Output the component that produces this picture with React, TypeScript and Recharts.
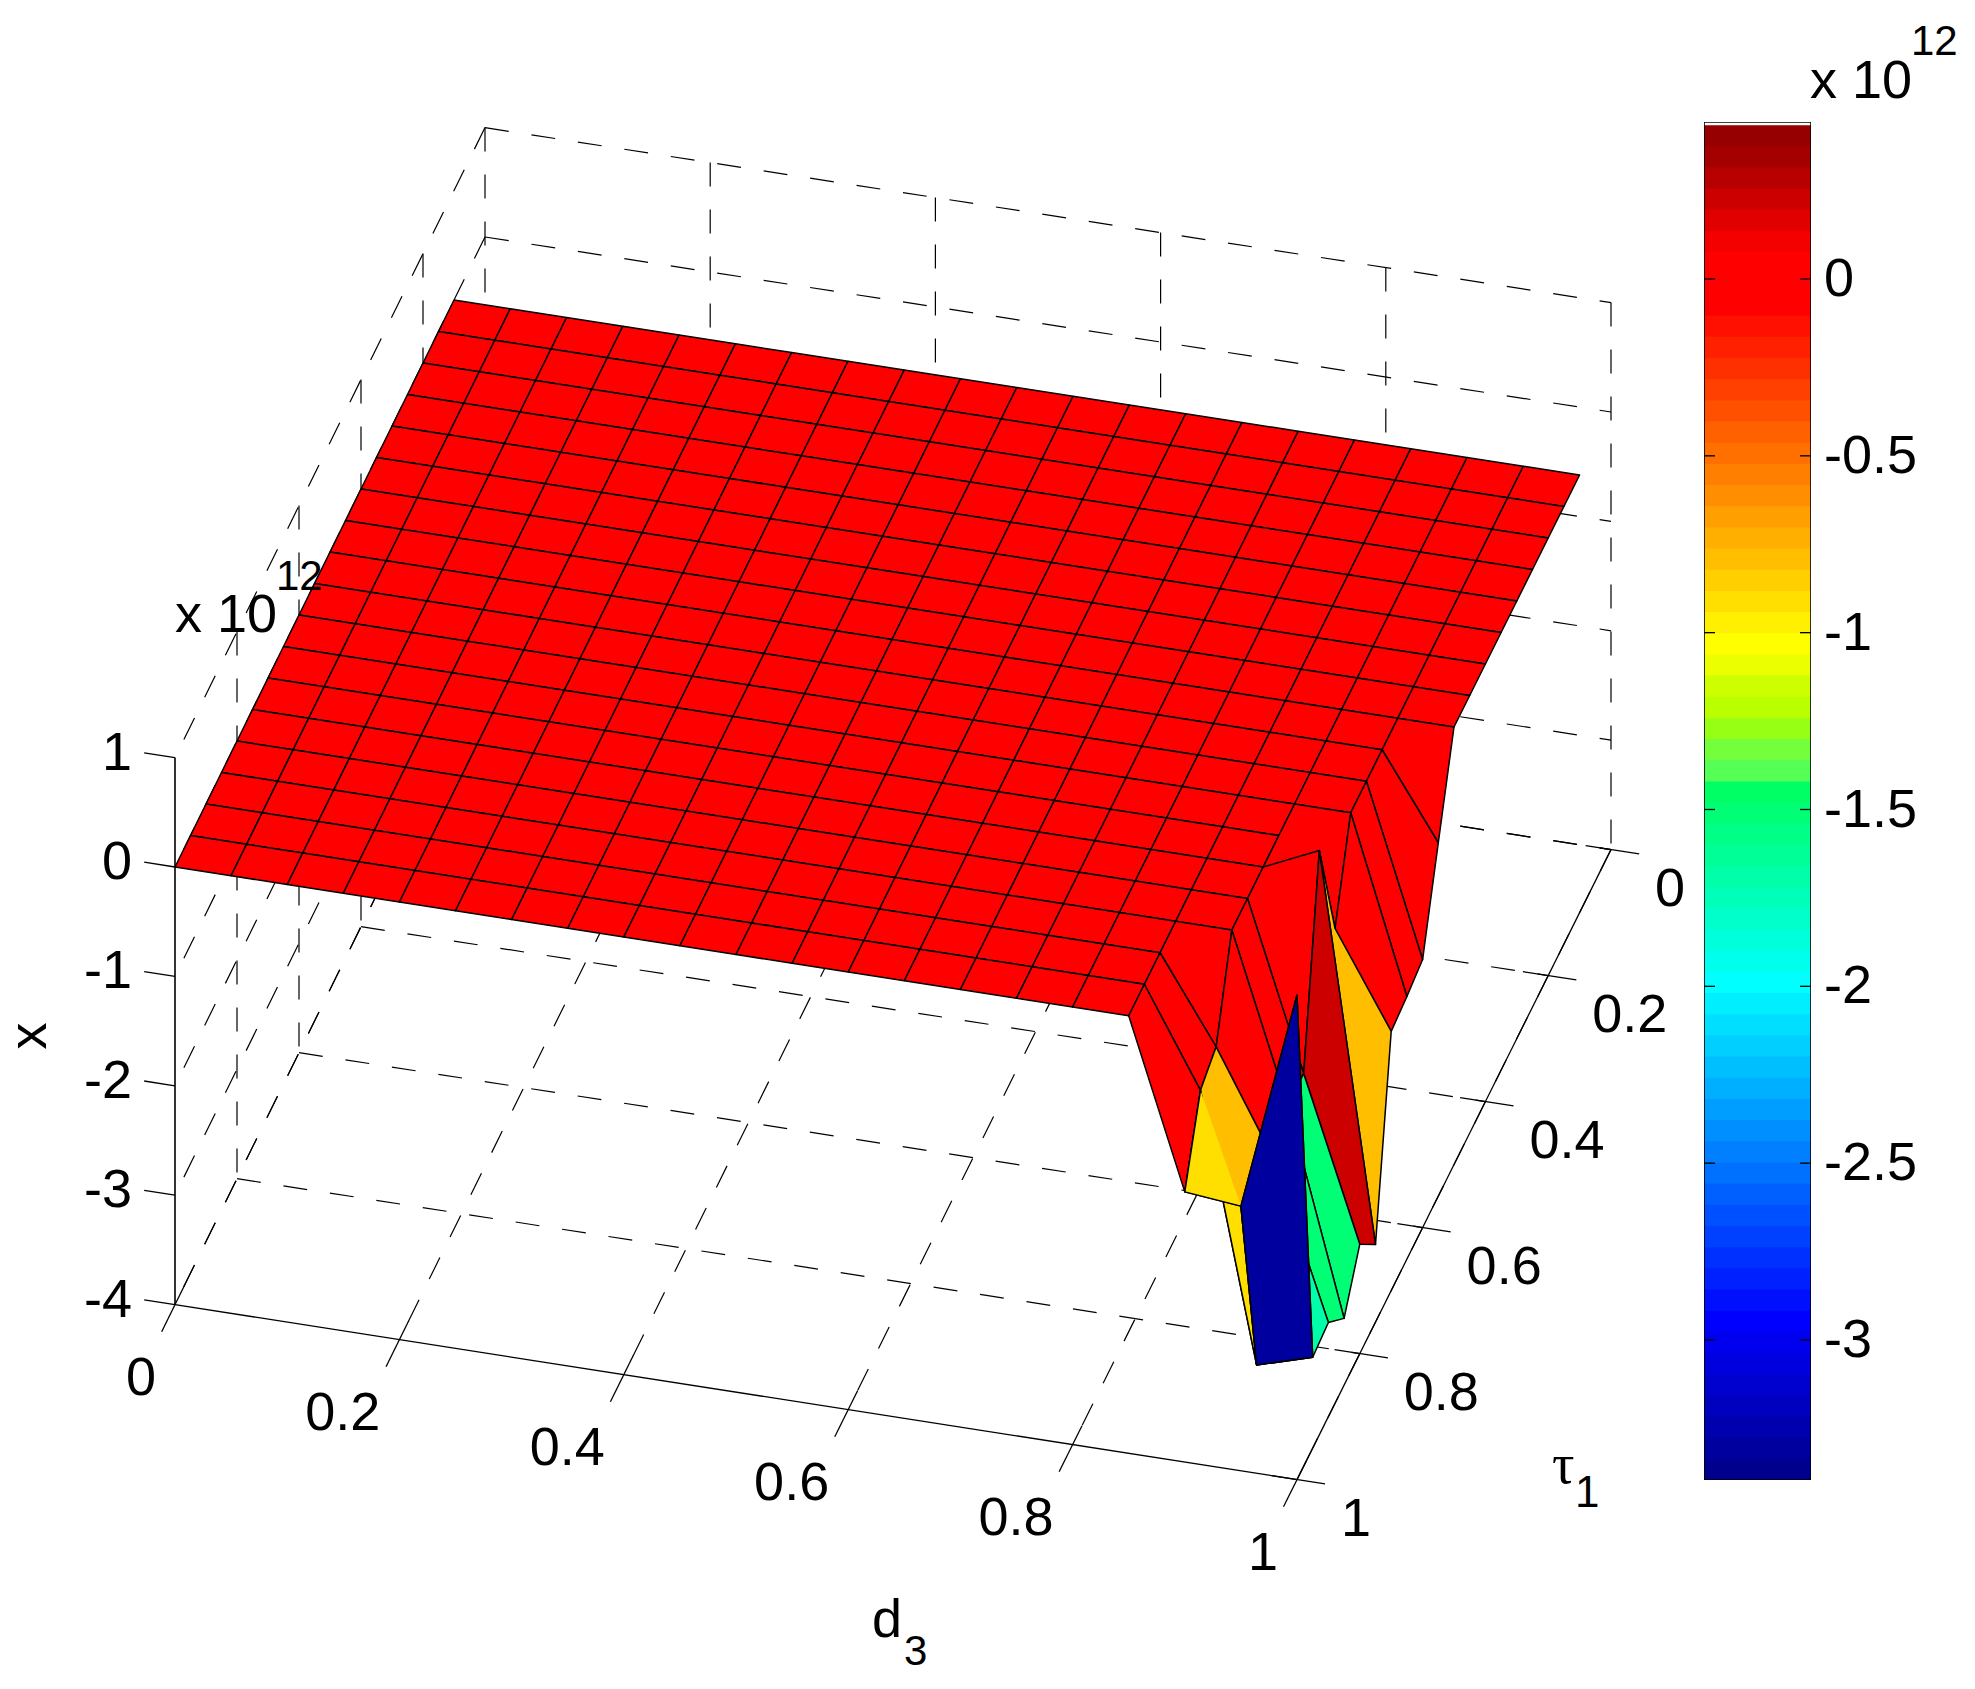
import { ScatterChart, Scatter, XAxis, YAxis } from "recharts";

// surface samples, x values are in units of 1e12
const d3Values = [0, 0.05, 0.1, 0.15, 0.2, 0.25, 0.3, 0.35, 0.4, 0.45, 0.5, 0.55, 0.6, 0.65, 0.7, 0.75, 0.8, 0.85, 0.9, 0.95, 1];
const tauValues = [0.1, 0.15, 0.2, 0.25, 0.3, 0.35, 0.4, 0.45, 0.5, 0.55, 0.6, 0.65, 0.7, 0.75, 0.8, 0.85, 0.9, 0.95, 1];
const plateau = [0, 0, 0, 0, 0, 0, 0, 0, 0, 0, 0, 0, 0, 0, 0, 0, 0, 0];
const xValues = [
  [...plateau, 0, 0, 0],
  [...plateau, 0, 0, 0],
  [...plateau, 0, 0, 0],
  [...plateau, 0, 0, 0],
  [...plateau, 0, 0, 0],
  [...plateau, 0, 0, 0],
  [...plateau, 0, 0, 0],
  [...plateau, 0, 0, 0],
  [...plateau, 0, 0, 0],
  [...plateau, 0, 0, -0.77],
  [...plateau, 0, 0, -1.55],
  [...plateau, 0, 0, -1.6],
  [...plateau, 0, -0.77, -1.63],
  [...plateau, 0, 0.23, -3.29],
  [...plateau, 0, -1.52, -3.0],
  [...plateau, 0, -1.53, -3.39],
  [...plateau, -0.78, -1.7, -3.14],
  [...plateau, -0.89, -3.32, -3.17],
  [...plateau, -1.53, -1.58, 0.43],
];

const d3Ticks = [0, 0.2, 0.4, 0.6, 0.8, 1];
const tauTicks = [0, 0.2, 0.4, 0.6, 0.8, 1];
const xTicks = [1, 0, -1, -2, -3, -4];
const colorbarTicks = [0, -0.5, -1, -1.5, -2, -2.5, -3];

// colour bar bands, bottom to top
const colorbarColors = [
  "#00008f", "#00009f", "#0000af", "#0000bf", "#0000cf", "#0000df", "#0000ef", "#0000ff",
  "#0010ff", "#0020ff", "#0030ff", "#0040ff", "#0050ff", "#0060ff", "#0070ff", "#0080ff",
  "#008fff", "#009fff", "#00afff", "#00bfff", "#00cfff", "#00dfff", "#00efff", "#00ffff",
  "#00ffec", "#00ffdb", "#00ffca", "#00ffb9", "#00ffa8", "#00ff97", "#00ff86", "#00ff75",
  "#00ff64", "#55ff55", "#73ff3c", "#96ff14", "#b9ff00", "#cdff00", "#ebff00", "#ffff00",
  "#ffef00", "#ffdf00", "#ffcf00", "#ffbf00", "#ffaf00", "#ff9f00", "#ff8f00", "#ff8000",
  "#ff7000", "#ff6000", "#ff5000", "#ff4000", "#ff3000", "#ff2000", "#ff1000", "#ff0000",
  "#ff0000", "#ff0000", "#f50000", "#e10000", "#cd0000", "#b90000", "#a50000", "#960000",
];
const colorMin = -3.396;
const colorMax = 0.435;
const barTop = 0.444;
const barWidth = 107;

const WIDTH = 1975;
const HEIGHT = 1689;
const FONT = "'Liberation Sans', Arial, sans-serif";

// fixed view of the box: where a (d3, tau, x) point lands in the plot
const project = (d3: number, tau: number, x: number) => ({
  px: 175 + 1122 * d3 + 314 * (1 - tau) - 4 * (1 - tau) * (1 - d3),
  py: 867 + 175 * d3 - 630 * (1 - tau) - 109.4 * x,
});

const node = (j: number, i: number) => project(d3Values[j], tauValues[i], xValues[i][j]);
const faceColor = (value: number) => {
  const idx = Math.floor(((value - colorMin) / (colorMax - colorMin)) * colorbarColors.length);
  return colorbarColors[Math.min(Math.max(idx, 0), colorbarColors.length - 1)];
};

const noMark = () => null;

const drawLabel = (props: any) => {
  const d = props.payload ?? props;
  const transform = d.rotate ? `rotate(${d.rotate} ${props.cx} ${props.cy})` : undefined;
  return (
    <text
      x={props.cx}
      y={props.cy}
      fontFamily={d.font ?? FONT}
      fontSize={d.size ?? 54}
      textAnchor={d.anchor ?? "start"}
      transform={transform}
      fill="#000"
    >
      {d.text}
    </text>
  );
};

const path = (key: string, points: any[], style: any) => (
  <Scatter key={key} data={points} shape={noMark} isAnimationActive={false} legendType="none" line={style} />
);

const dashed = { stroke: "#000", strokeWidth: 1.2, strokeDasharray: "24 23", fill: "none" };
const solid = { stroke: "#000", strokeWidth: 1.3, fill: "none" };
const edge = { stroke: "#000", strokeWidth: 1.5, strokeLinejoin: "round" };

const gridLines = () => {
  const out: any[] = [];
  xTicks.forEach((x) => {
    out.push(path(`wall-back-${x}`, [project(0, 0, x), project(1, 0, x)], dashed));
    out.push(path(`wall-left-${x}`, [project(0, 0, x), project(0, 1, x)], dashed));
  });
  d3Ticks.forEach((d) => {
    out.push(path(`back-v-${d}`, [project(d, 0, 1), project(d, 0, -4)], dashed));
    out.push(path(`floor-d-${d}`, [project(d, 0, -4), project(d, 1, -4)], dashed));
  });
  tauTicks.forEach((t) => {
    if (t > 0 && t < 1) out.push(path(`left-v-${t}`, [project(0, t, 1), project(0, t, -4)], dashed));
    if (t < 1) out.push(path(`floor-t-${t}`, [project(0, t, -4), project(1, t, -4)], dashed));
  });
  return out;
};

const axisLines = () => {
  const out: any[] = [
    path("axis-x", [project(0, 1, 1), project(0, 1, -4)], { ...solid, strokeWidth: 1.6 }),
    path("axis-d3", [project(0, 1, -4), project(1, 1, -4)], solid),
    path("axis-tau", [project(1, 0, -4), project(1, 1, -4)], solid),
  ];
  xTicks.forEach((x) => out.push(path(`tick-x-${x}`, [project(-0.0275, 1, x), project(0, 1, x)], solid)));
  d3Ticks.forEach((d) => out.push(path(`tick-d-${d}`, [project(d, 0.97, -4), project(d, 1.043, -4)], solid)));
  tauTicks.forEach((t) => out.push(path(`tick-t-${t}`, [project(0.9775, t, -4), project(1.025, t, -4)], solid)));
  return out;
};

// faces go back to front; colour comes from the lowest corner index, as surf does
const surfaceFaces = () => {
  const out: any[] = [];
  for (let i = 0; i < tauValues.length - 1; i++) {
    for (let j = 0; j < d3Values.length - 1; j++) {
      const corners = [node(j, i), node(j + 1, i), node(j + 1, i + 1), node(j, i + 1), node(j, i)];
      out.push(path(`face-${i}-${j}`, corners, { ...edge, fill: faceColor(xValues[i][j]) }));
    }
    // the spike at d3=0.95, tau=0.75 hides this stretch of mesh in the reference
    if (i === 12) {
      out.push(path("patch-spike", [node(18, 12), node(19, 11), node(19, 13), node(18, 13)], { stroke: "none", fill: faceColor(0) }));
      out.push(path("patch-spike-edge", [node(18, 12), node(18, 13)], { ...edge, fill: "none" }));
    }
    // folded yellow face: its front half sits over the orange neighbour
    if (i === 17) {
      const fold = [node(18, 17), node(18, 18), node(19, 18)];
      out.push(path("patch-fold-fill", fold, { stroke: "none", fill: faceColor(xValues[17][18]) }));
      out.push(path("patch-fold-edge", fold, { ...edge, fill: "none" }));
      // blue face was already pushed for this row, so paint it again on top
      const blue = [node(19, 17), node(20, 17), node(20, 18), node(19, 18), node(19, 17)];
      out.push(path("face-blue-top", blue, { ...edge, fill: faceColor(xValues[17][19]) }));
    }
  }
  return out;
};

const tickLabels = [
  ...xTicks.map((x) => {
    const p = project(0, 1, x);
    return { px: p.px - 43, py: p.py + 12, text: String(x), anchor: "end" };
  }),
  ...d3Ticks.map((d) => {
    const p = project(d, 1, -4);
    return { px: p.px - 19, py: p.py + 90, text: String(d), anchor: "end" };
  }),
  ...tauTicks.map((t) => {
    const p = project(1, t, -4);
    return { px: p.px + 44, py: p.py + 56, text: String(t), anchor: "start" };
  }),
];

const titleLabels = [
  { px: 46, py: 1036, text: "x", anchor: "middle", rotate: -90 },
  { px: 872, py: 1637, text: "d" },
  { px: 904, py: 1665, text: "3", size: 42 },
  { px: 1552, py: 1483, text: "τ", font: "'Liberation Serif', serif", size: 56 },
  { px: 1575, py: 1507, text: "1", size: 44 },
  { px: 175, py: 632, text: "x 10" },
  { px: 276, py: 590, text: "12", size: 42 },
  { px: 1810, py: 98, text: "x 10" },
  { px: 1911, py: 55, text: "12", size: 42 },
];

const bandEdge = (i: number) => colorMin + (i * (colorMax - colorMin)) / colorbarColors.length;
const bandShape = (lo: number, hi: number) => [
  { u: 0, v: lo },
  { u: barWidth, v: lo },
  { u: barWidth, v: hi },
  { u: 0, v: hi },
  { u: 0, v: lo },
];

export default function App() {
  return (
    <div style={{ position: "absolute", left: 0, top: 0, width: WIDTH, height: HEIGHT, background: "#fff" }}>
      <div style={{ position: "absolute", left: 0, top: 0 }}>
        <ScatterChart width={WIDTH} height={HEIGHT} margin={{ top: 0, right: 0, bottom: 0, left: 0 }}>
          <XAxis type="number" dataKey="px" domain={[0, WIDTH]} hide allowDataOverflow />
          <YAxis type="number" dataKey="py" domain={[0, HEIGHT]} reversed hide allowDataOverflow />
          {gridLines()}
          {axisLines()}
          {surfaceFaces()}
          <Scatter data={[...tickLabels, ...titleLabels]} shape={drawLabel} isAnimationActive={false} legendType="none" />
        </ScatterChart>
      </div>
      <div style={{ position: "absolute", left: 1702, top: 120 }}>
        <ScatterChart width={260} height={1362} margin={{ top: 2, right: 0, bottom: 2, left: 2 }}>
          <XAxis type="number" dataKey="u" domain={[0, barWidth]} hide allowDataOverflow />
          <YAxis
            type="number"
            dataKey="v"
            orientation="right"
            domain={[colorMin, barTop]}
            ticks={colorbarTicks}
            interval={0}
            width={151}
            axisLine={false}
            tickLine={false}
            tickSize={0}
            tickMargin={13}
            allowDataOverflow
            tick={{ fill: "#000", fontSize: 54, fontFamily: FONT, dy: -2 }}
          />
          {/* each band runs a little under the next one so no seams show */}
          {[...colorbarColors.keys()].reverse().map((i) =>
            path(`band-${i}`, bandShape(bandEdge(i) - (i > 0 ? 0.006 : 0), bandEdge(i + 1)), { stroke: "none", fill: colorbarColors[i] })
          )}
          {colorbarTicks.map((t) => path(`tl-${t}`, [{ u: 0, v: t }, { u: 11, v: t }], solid))}
          {colorbarTicks.map((t) => path(`tr-${t}`, [{ u: barWidth - 11, v: t }, { u: barWidth, v: t }], solid))}
          {path("bar-box", bandShape(colorMin, barTop), { stroke: "#000", strokeWidth: 1.6, fill: "none" })}
        </ScatterChart>
      </div>
    </div>
  );
}
